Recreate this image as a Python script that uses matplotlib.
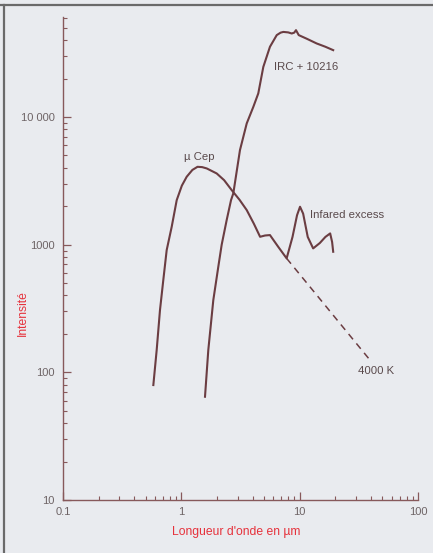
import matplotlib
matplotlib.use("Agg")
import matplotlib.pyplot as plt
from matplotlib.ticker import FixedLocator, LogLocator, NullFormatter
import numpy as np

# ---- data ----
mucep_x = [0.580, 0.619, 0.660, 0.704, 0.752, 0.829, 0.914, 1.01, 1.11, 1.24, 1.37, 1.50, 1.64, 1.99, 2.30, 2.66,
           3.10, 3.57, 4.10, 4.63, 5.10, 5.61, 6.60, 7.76, 8.70, 9.50, 10.07, 10.70, 11.7, 13.0, 14.8, 16.5, 18.1, 18.8, 19.2]
mucep_y = [79.5, 149.5, 307, 528, 907, 1380, 2233, 2900, 3404, 3850, 4073, 4050, 3955, 3613, 3200, 2680,
           2250, 1866, 1460, 1153, 1180, 1189, 960, 781, 1150, 1700, 1982, 1750, 1150, 935, 1030, 1150, 1225, 1050, 880]

irc_x = [1.585, 1.69, 1.863, 2.053, 2.193, 2.417, 2.63, 2.75, 3.13, 3.57, 4.06, 4.47, 4.93, 5.61, 6.40, 6.90,
         7.28, 8.00, 8.57, 9.00, 9.31, 9.82, 11.5, 13.9, 16.5, 19.2]
irc_y = [64.4, 149.5, 368, 671, 1000, 1560, 2233, 2524, 5508, 8913, 12020, 15310, 24700, 35500, 43800, 45800,
         46400, 46000, 45100, 45800, 47900, 43800, 41000, 37700, 35500, 33400]

bb_x = [7.76, 39.3]
bb_y = [781, 124.7]

x_ticks = [0.1, 1, 10, 100]
x_tick_labels = ["0.1", "1", "10", "100"]
y_ticks = [10, 100, 1000, 10000]
y_tick_labels = ["10", "100", "1000", "10 000"]

bg = "#e9ebef"
line_c = "#6b3d42"
red = "#e6323c"
tick_c = "#6e6466"
spine_c = "#87595b"

fig = plt.figure(figsize=(4.33, 5.53), dpi=100, facecolor=bg)
ax = fig.add_axes([63/433, 1-500/553, (418-63)/433, (500-17.3)/553])
ax.set_facecolor(bg)
ax.set_xscale("log")
ax.set_yscale("log")
ax.set_xlim(0.1, 100)
ax.set_ylim(10, 60400)

ax.plot(mucep_x, mucep_y, color=line_c, lw=1.5, solid_joinstyle="round")
ax.plot(irc_x, irc_y, color=line_c, lw=1.5, solid_joinstyle="round")
ax.plot(bb_x, bb_y, color=line_c, lw=1.1, dashes=(4.5, 3.5))

for s in ["top", "right"]:
    ax.spines[s].set_visible(False)
for s in ["left", "bottom"]:
    ax.spines[s].set_color(spine_c)
    ax.spines[s].set_linewidth(1.0)

fam = ["Liberation Sans", "DejaVu Sans"]
ax.xaxis.set_major_locator(FixedLocator(x_ticks))
ax.set_xticklabels(x_tick_labels, fontsize=8, color=tick_c, family=fam)
ax.yaxis.set_major_locator(FixedLocator(y_ticks))
ax.set_yticklabels(y_tick_labels, fontsize=8, color=tick_c, family=fam)
ax.xaxis.set_minor_locator(LogLocator(base=10, subs=np.arange(2, 10)))
ax.yaxis.set_minor_locator(LogLocator(base=10, subs=np.arange(2, 10)))
ax.xaxis.set_minor_formatter(NullFormatter())
ax.yaxis.set_minor_formatter(NullFormatter())
ax.tick_params(which="major", direction="in", length=5.5, width=0.9, color=spine_c)
ax.tick_params(which="minor", direction="in", length=3.0, width=0.8, color=spine_c)
ax.tick_params(axis="x", which="major", pad=5)
ax.tick_params(axis="y", which="major", pad=6)

ax.set_xlabel("Longueur d'onde en µm", color=red, fontsize=8.7, family=fam)
ax.xaxis.set_label_coords((236-63)/355, -(526-500)/482.7)
ax.set_ylabel("Intensité", color=red, fontsize=8.7, family=fam)
ax.yaxis.set_label_coords((29-63)/355, (500-313)/482.7)

txt = dict(color="#5a4a4c", fontsize=8.2, family=fam)
ax.text(1.41, 4850, "µ Cep", ha="center", va="center", **txt)
ax.text(11.4, 24700, "IRC + 10216", ha="center", va="center", **txt)
ax.text(12.2, 1706, "Infared excess", ha="left", va="center", **txt)
ax.text(31.1, 102, "4000 K", ha="left", va="center", **txt)

# page border lines (top and left)
fig.add_artist(plt.Line2D([0, 1], [1-5/553, 1-5/553], transform=fig.transFigure, color="#6a6a6a", lw=1.6))
fig.add_artist(plt.Line2D([4/433, 4/433], [0, 1-5/553], transform=fig.transFigure, color="#6a6a6a", lw=1.6))

fig.savefig("out.png", dpi=100, facecolor=bg)
